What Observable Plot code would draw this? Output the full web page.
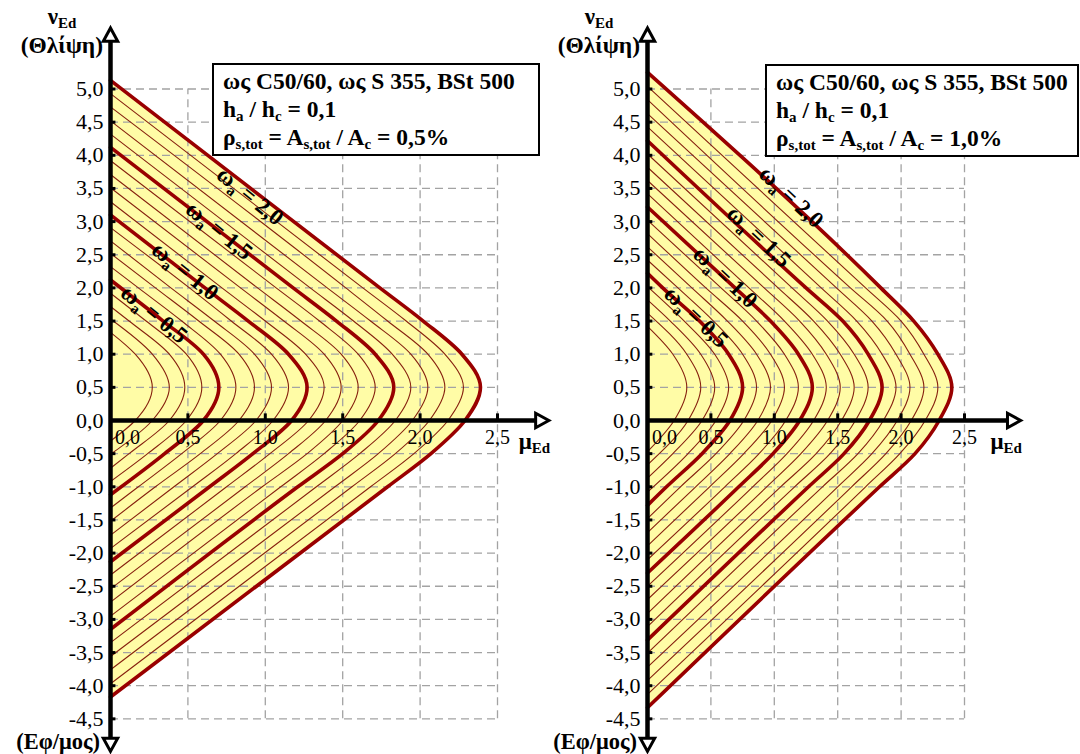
<!DOCTYPE html>
<html>
<head>
<meta charset="utf-8">
<script src="https://cdn.jsdelivr.net/npm/d3@7"></script>
<script src="https://cdn.jsdelivr.net/npm/@observablehq/plot@0.6"></script>
<style>
html,body{margin:0;padding:0;background:#fff;font-family:'Liberation Serif','Times New Roman',Times,'DejaVu Serif',serif;}
#wrap{position:relative;width:1080px;height:754px;overflow:hidden;}
#wrap svg{position:absolute;top:0;}
#wrap svg text{font-family:'Liberation Serif','Times New Roman',Times,'DejaVu Serif',serif;}
.box{position:absolute;box-sizing:border-box;border:2px solid #000;background:#fff;font-family:'Liberation Serif','Times New Roman',Times,'DejaVu Serif',serif;font-weight:bold;font-size:23.5px;line-height:28px;padding:2px 0 0 9px;color:#000;white-space:nowrap;overflow:hidden;}
.box sub{font-size:15px;line-height:0;vertical-align:-4px;}
</style>
</head>
<body>
<div id="wrap"></div>
<script>
// ---------- shared values ----------
const omegas = [0.1,0.2,0.3,0.4,0.5,0.6,0.7,0.8,0.9,1.0,1.1,1.2,1.3,1.4,1.5,1.6,1.7,1.8,1.9,2.0];
const thickOmegas = [0.5,1.0,1.5,2.0];
const nuRows = [2.0,1.5,1.0,0.5,0.0,-0.5,-1.0];
const nuTicks = [5.0,4.5,4.0,3.5,3.0,2.5,2.0,1.5,1.0,0.5,0.0,-0.5,-1.0,-1.5,-2.0,-2.5,-3.0,-3.5,-4.0,-4.5];
const nuTickLabels = ["5,0","4,5","4,0","3,5","3,0","2,5","2,0","1,5","1,0","0,5","0,0","-0,5","-1,0","-1,5","-2,0","-2,5","-3,0","-3,5","-4,0","-4,5"];
const muTicks = [0.0,0.5,1.0,1.5,2.0,2.5];
const muTickLabels = ["0,0","0,5","1,0","1,5","2,0","2,5"];
const omegaLabelTexts = ["0,5","1,0","1,5","2,0"];
const legendLines = ["ως C50/60, ως S 355, BSt 500","h<sub>a</sub> / h<sub>c</sub> = 0,1","ρ<sub>s,tot</sub> = A<sub>s,tot</sub> / A<sub>c</sub> = "];
const rhoLeft = "0,5%";
const rhoRight = "1,0%";

// ---------- left panel (ρ = 0,5%) : μ at ν rows, axis intercepts ----------
const leftTop    = [1.33,1.53,1.72,1.92,2.12,2.32,2.52,2.71,2.91,3.10,3.30,3.51,3.71,3.92,4.12,4.32,4.52,4.73,4.93,5.13];
const leftBottom = [-0.31,-0.51,-0.72,-0.92,-1.12,-1.32,-1.52,-1.73,-1.93,-2.13,-2.33,-2.54,-2.74,-2.95,-3.15,-3.35,-3.56,-3.76,-3.97,-4.17];
const leftMu20   = [null,null,null,null,null,0.18,0.29,0.39,0.51,0.61,0.72,0.84,0.95,1.07,1.18,1.29,1.40,1.52,1.63,1.74];
const leftMu15   = [null,null,0.12,0.23,0.34,0.46,0.57,0.67,0.78,0.89,1.00,1.12,1.23,1.35,1.46,1.57,1.68,1.79,1.91,2.02];
const leftMu10   = [0.16,0.27,0.38,0.49,0.60,0.71,0.83,0.93,1.04,1.15,1.26,1.38,1.49,1.60,1.71,1.82,1.94,2.05,2.16,2.27];
const leftMu05   = [0.27,0.38,0.48,0.59,0.70,0.81,0.93,1.04,1.15,1.27,1.38,1.49,1.60,1.71,1.83,1.94,2.05,2.16,2.28,2.39];
const leftMu00   = [0.16,0.27,0.38,0.49,0.60,0.71,0.83,0.94,1.05,1.17,1.28,1.39,1.50,1.61,1.73,1.84,1.95,2.06,2.18,2.29];
const leftMuM05  = [null,null,0.12,0.24,0.35,0.46,0.58,0.69,0.81,0.92,1.03,1.15,1.27,1.38,1.50,1.61,1.73,1.84,1.96,2.07];
const leftMuM10  = [null,null,null,null,null,0.18,0.29,0.41,0.53,0.64,0.75,0.87,0.98,1.10,1.21,1.33,1.45,1.56,1.68,1.79];
const leftLabelMu = [0.28,0.48,0.70,0.90];
const leftLabelNu = [1.58,2.23,2.84,3.36];

// ---------- right panel (ρ = 1,0%) ----------
const rightTop    = [1.42,1.62,1.82,2.02,2.22,2.42,2.62,2.82,3.02,3.22,3.42,3.62,3.82,4.02,4.22,4.43,4.63,4.84,5.04,5.25];
const rightBottom = [-0.47,-0.67,-0.87,-1.08,-1.28,-1.48,-1.69,-1.89,-2.10,-2.30,-2.50,-2.70,-2.91,-3.11,-3.31,-3.51,-3.72,-3.92,-4.13,-4.33];
const rightMu20   = [null,null,null,null,0.12,0.24,0.35,0.46,0.58,0.69,0.80,0.92,1.03,1.14,1.25,1.37,1.49,1.60,1.72,1.84];
const rightMu15   = [null,null,0.18,0.29,0.41,0.52,0.63,0.75,0.86,0.97,1.08,1.20,1.31,1.42,1.54,1.65,1.77,1.89,2.00,2.10];
const rightMu10   = [0.20,0.31,0.42,0.53,0.64,0.75,0.86,0.97,1.08,1.19,1.30,1.41,1.52,1.63,1.74,1.85,1.96,2.07,2.18,2.29];
const rightMu05   = [0.31,0.42,0.53,0.64,0.75,0.86,0.97,1.08,1.19,1.30,1.41,1.52,1.63,1.74,1.85,1.96,2.07,2.18,2.29,2.40];
const rightMu00   = [0.21,0.32,0.43,0.54,0.65,0.76,0.87,0.98,1.09,1.20,1.31,1.42,1.53,1.64,1.75,1.86,1.97,2.08,2.19,2.30];
const rightMuM05  = [null,null,0.20,0.32,0.43,0.54,0.65,0.76,0.88,0.99,1.10,1.21,1.33,1.44,1.55,1.66,1.77,1.88,1.99,2.11];
const rightMuM10  = [null,null,null,null,0.15,0.26,0.38,0.49,0.61,0.72,0.83,0.94,1.05,1.16,1.27,1.38,1.50,1.61,1.72,1.83];
const rightLabelMu = [0.38,0.61,0.875,1.13];
const rightLabelNu = [1.54,2.14,2.75,3.35];

// ---------- styling ----------
const FONT = "'Liberation Serif','Times New Roman',Times,'DejaVu Serif',serif";
const fillColor = "#fffca6";
const thinColor = "#86200e";
const thickColor = "#990000";
const gridColor = "#a3a3a3";

function buildCurves(top, bottom, rows) {
  const pts = [];
  omegas.forEach((w, i) => {
    pts.push({omega: w, nu: top[i], mu: 0});
    rows.forEach((arr, k) => { if (arr[i] != null) pts.push({omega: w, nu: nuRows[k], mu: arr[i]}); });
    pts.push({omega: w, nu: bottom[i], mu: 0});
  });
  return pts;
}

function buildPanel(cfg) {
  const pts = buildCurves(cfg.top, cfg.bottom, cfg.rows);
  const isThick = d => thickOmegas.some(t => Math.abs(t - d.omega) < 1e-9);
  const outer = pts.filter(d => Math.abs(d.omega - 2.0) < 1e-9);
  const thin = pts.filter(d => !isThick(d));
  const thick = pts.filter(isThick);
  const yT = nuTicks.map((v, i) => ({v, label: nuTickLabels[i]}));
  const xT = muTicks.map((v, i) => ({v, label: muTickLabels[i]}));
  const upTri = {draw(c, s){const a=Math.sqrt(s/Math.PI);c.moveTo(0,-a);c.lineTo(a*0.9,a*0.65);c.lineTo(-a*0.9,a*0.65);c.closePath();}};
  const downTri = {draw(c, s){const a=Math.sqrt(s/Math.PI);c.moveTo(0,a);c.lineTo(a*0.9,-a*0.65);c.lineTo(-a*0.9,-a*0.65);c.closePath();}};
  const rightTri = {draw(c, s){const a=Math.sqrt(s/Math.PI);c.moveTo(a,0);c.lineTo(-a*0.65,a*0.9);c.lineTo(-a*0.65,-a*0.9);c.closePath();}};

  const plot = Plot.plot({
    width: 540, height: 754,
    marginLeft: cfg.ml, marginRight: cfg.mr, marginTop: 88.5, marginBottom: 35.65,
    x: {domain: [0, 2.5], axis: null},
    y: {domain: [-4.5, 5.0], axis: null},
    style: {fontFamily: FONT, background: "transparent", overflow: "visible", color: "#000"},
    marks: [
      Plot.areaX(outer, {x: "mu", y: "nu", curve: "monotone-y", fill: fillColor}),
      Plot.ruleX(muTicks.filter(v => v > 0), {x: d => d, y1: -4.5, y2: 5.0, stroke: gridColor, strokeWidth: 1.3, strokeDasharray: "8,5"}),
      Plot.ruleY(nuTicks.filter(v => v !== 0), {y: d => d, x1: 0, x2: 2.5, stroke: gridColor, strokeWidth: 1.3, strokeDasharray: "8,5"}),
      Plot.line(thin, {x: "mu", y: "nu", z: "omega", curve: "monotone-y", stroke: thinColor, strokeWidth: 1.1}),
      Plot.line(thick, {x: "mu", y: "nu", z: "omega", curve: "monotone-y", stroke: thickColor, strokeWidth: 3.6}),
      Plot.ruleX([0], {y1: cfg.nuAxisBottom, y2: cfg.nuAxisTop, stroke: "#000", strokeWidth: 4.5}),
      Plot.ruleY([0], {x1: 0, x2: cfg.muAxisEnd, stroke: "#000", strokeWidth: 4.5}),
      Plot.ruleY(nuTicks, {y: d => d, x1: 0, x2: cfg.tickLen, stroke: "#000", strokeWidth: 3}),
      Plot.ruleX(muTicks.filter(v => v > 0), {x: d => d, y1: 0, y2: 0.1, stroke: "#000", strokeWidth: 3}),
      Plot.dot([{x: 0, y: cfg.nuArrowTop}], {x: "x", y: "y", symbol: upTri, r: 8, fill: "#fff", stroke: "#000", strokeWidth: 3}),
      Plot.dot([{x: 0, y: cfg.nuArrowBottom}], {x: "x", y: "y", symbol: downTri, r: 8, fill: "#fff", stroke: "#000", strokeWidth: 3}),
      Plot.dot([{x: cfg.muArrow, y: 0}], {x: "x", y: "y", symbol: rightTri, r: 8, fill: "#fff", stroke: "#000", strokeWidth: 3}),
      Plot.text(yT, {x: 0, y: "v", text: "label", textAnchor: "end", dx: -7, fontSize: 22, fill: "#000"}),
      Plot.text(xT.filter(d => d.v === 0), {x: "v", y: 0, text: "label", dx: 17, dy: 17, fontSize: 20, fill: "#000"}),
      Plot.text(xT.filter(d => d.v > 0), {x: "v", y: 0, text: "label", dy: 17, fontSize: 20, fill: "#000"})
    ]
  });

  const xs = plot.scale("x"), ys = plot.scale("y");
  const g = d3.select(plot).append("g").attr("font-weight", "bold").attr("fill", "#000");
  // ω labels on the thick curves
  cfg.labelMu.forEach((m, i) => {
    const x = xs.apply(m), y = ys.apply(cfg.labelNu[i]);
    const t = g.append("text").attr("x", x).attr("y", y).attr("text-anchor", "middle")
      .attr("transform", `rotate(${cfg.labelAngle},${x},${y})`);
    t.append("tspan").attr("font-size", 24).attr("dy", 6).text("ω");
    t.append("tspan").attr("font-size", 15).attr("dy", 5).text("a");
    t.append("tspan").attr("font-size", 23).attr("dy", -5).text(" = " + omegaLabelTexts[i]);
  });
  // axis titles
  const x0 = xs.apply(0), yTop = ys.apply(5.0), yBot = ys.apply(-4.5), yZero = ys.apply(0);
  const nuT = g.append("text").attr("x", x0 - 48).attr("y", yTop - 65).attr("text-anchor", "middle");
  nuT.append("tspan").attr("font-size", 23).text("ν");
  nuT.append("tspan").attr("font-size", 15).attr("dy", 4).text("Ed");
  g.append("text").attr("x", x0 - 7).attr("y", yTop - 36).attr("text-anchor", "end").attr("font-size", 23.5).text("(Θλίψη)");
  g.append("text").attr("x", x0 - 10).attr("y", yBot + 31).attr("text-anchor", "end").attr("font-size", 22.5).text("(Εφ/μος)");
  const muT = g.append("text").attr("x", xs.apply(cfg.muArrow) - 6).attr("y", yZero + 29).attr("text-anchor", "middle");
  muT.append("tspan").attr("font-size", 23).text("μ");
  muT.append("tspan").attr("font-size", 15).attr("dy", 4).text("Ed");
  return plot;
}

const wrap = document.getElementById("wrap");
const left = buildPanel({
  top: leftTop, bottom: leftBottom,
  rows: [leftMu20, leftMu15, leftMu10, leftMu05, leftMu00, leftMuM05, leftMuM10],
  ml: 110, mr: 43, tickLen: 0.035,
  nuAxisTop: 5.75, nuAxisBottom: -4.8, nuArrowTop: 5.8, nuArrowBottom: -4.87,
  muAxisEnd: 2.75, muArrow: 2.78,
  labelMu: leftLabelMu, labelNu: leftLabelNu, labelAngle: 39
});
left.style.left = "0px";
wrap.appendChild(left);

const right = buildPanel({
  top: rightTop, bottom: rightBottom,
  rows: [rightMu20, rightMu15, rightMu10, rightMu05, rightMu00, rightMuM05, rightMuM10],
  ml: 107, mr: 116, tickLen: 0.042,
  nuAxisTop: 5.75, nuAxisBottom: -4.8, nuArrowTop: 5.8, nuArrowBottom: -4.87,
  muAxisEnd: 2.85, muArrow: 2.88,
  labelMu: rightLabelMu, labelNu: rightLabelNu, labelAngle: 43
});
right.style.left = "540px";
wrap.appendChild(right);

function addBox(leftPx, topPx, width, rho) {
  const d = document.createElement("div");
  d.className = "box";
  d.style.left = leftPx + "px"; d.style.top = topPx + "px";
  d.style.width = width + "px"; d.style.height = "93px";
  d.innerHTML = legendLines[0] + "<br>" + legendLines[1] + "<br>" + legendLines[2] + rho;
  wrap.appendChild(d);
}
addBox(212, 63, 328, rhoLeft);
addBox(765, 64, 314, rhoRight);
</script>
</body>
</html>
